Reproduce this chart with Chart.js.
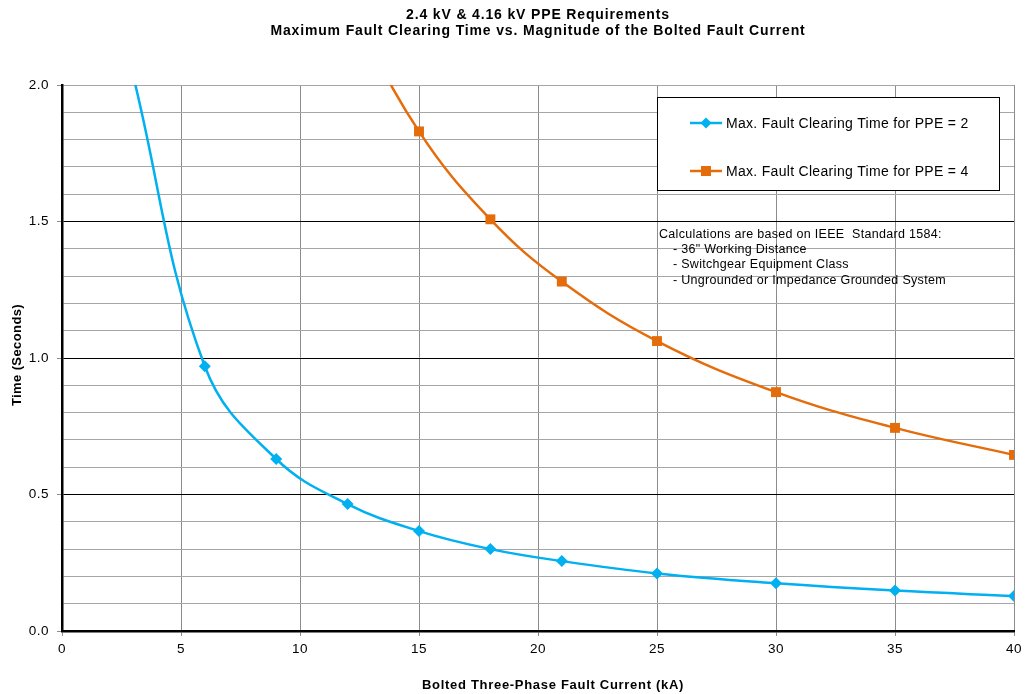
<!DOCTYPE html>
<html>
<head>
<meta charset="utf-8">
<script src="https://cdn.jsdelivr.net/npm/chart.js@4.4.1/dist/chart.umd.min.js"></script>
<style>
html,body{margin:0;padding:0;background:#fff;}
#wrap{width:1026px;height:694px;}
</style>
</head>
<body>
<div id="wrap"><canvas id="c" width="1026" height="694"></canvas></div>
<script>
// ---- data ----
const titleLines = ["2.4 kV & 4.16 kV PPE Requirements", "Maximum Fault Clearing Time vs. Magnitude of the Bolted Fault Current"];
const xTitle = "Bolted Three-Phase Fault Current (kA)";
const yTitle = "Time (Seconds)";
const ppe2Label = "Max. Fault Clearing Time for PPE = 2";
const ppe2Current = [3, 6, 9, 12, 15, 18, 21, 25, 30, 35, 40];
const ppe2Time    = [2.03, 0.97, 0.63, 0.465, 0.366, 0.300, 0.256, 0.211, 0.175, 0.148, 0.128];
const ppe4Label = "Max. Fault Clearing Time for PPE = 4";
const ppe4Current = [12, 15, 18, 21, 25, 30, 35, 40];
const ppe4Time    = [2.30, 1.83, 1.508, 1.28, 1.062, 0.875, 0.744, 0.645];
const noteHead = "Calculations are based on IEEE  Standard 1584:";
const noteItems = ["- 36\" Working Distance", "- Switchgear Equipment Class", "- Ungrounded or Impedance Grounded System"];
const xTickStep = 5;
const yMajorStep = 0.5;

const BLUE = '#00B0F0', ORANGE = '#E46C0A';
const FONT = "'Liberation Sans', Arial, sans-serif";

function pts(xs, ys){ return xs.map((x,i)=>({x:x, y:ys[i]})); }
function isMajor(v){ return Math.abs(v/yMajorStep - Math.round(v/yMajorStep)) < 1e-6; }

function txt(ctx, s, x, y, font, spacing, align){
  ctx.save();
  ctx.font = font;
  ctx.letterSpacing = spacing + 'px';
  ctx.fillStyle = '#000';
  ctx.textBaseline = 'middle';
  ctx.textAlign = align || 'left';
  ctx.fillText(s, x, y);
  ctx.restore();
}

const textPlugin = {
  id: 'textPlugin',
  beforeLayout(chart){ chart.ctx.letterSpacing = '0.5px'; },
  beforeDraw(chart){ chart.ctx.letterSpacing = '0.5px'; },
  afterDraw(chart){
    const ctx = chart.ctx;
    const ca = chart.chartArea;
    const cx = (ca.left + ca.right) / 2;
    // chart title
    txt(ctx, titleLines[0], cx, 15, "bold 14px " + FONT, 0.85, 'center');
    txt(ctx, titleLines[1], cx, 31, "bold 14px " + FONT, 0.85, 'center');
    // axis titles
    txt(ctx, xTitle, cx + 15, 685, "bold 13px " + FONT, 0.7, 'center');
    ctx.save();
    ctx.translate(17, (ca.top + ca.bottom) / 2 - 3);
    ctx.rotate(-Math.PI / 2);
    txt(ctx, yTitle, 0, 0, "bold 13px " + FONT, 0.4, 'center');
    ctx.restore();

    // legend box
    ctx.save();
    const bx = 657.5, by = 97.5, bw = 342, bh = 93;
    ctx.fillStyle = '#fff';
    ctx.fillRect(bx, by, bw, bh);
    ctx.strokeStyle = '#000';
    ctx.lineWidth = 1;
    ctx.strokeRect(bx, by, bw, bh);
    const rowsY = [123, 171];
    chart.data.datasets.forEach((ds, i) => {
      const y = rowsY[i];
      ctx.strokeStyle = ds.borderColor;
      ctx.lineWidth = 2.5;
      ctx.beginPath(); ctx.moveTo(690, y); ctx.lineTo(722, y); ctx.stroke();
      ctx.fillStyle = ds.backgroundColor;
      ctx.beginPath();
      if (ds.pointStyle === 'rectRot') {
        const r = 5.5;
        ctx.moveTo(706, y - r); ctx.lineTo(706 + r, y); ctx.lineTo(706, y + r); ctx.lineTo(706 - r, y); ctx.closePath();
      } else {
        ctx.rect(701, y - 5, 10, 10);
      }
      ctx.fill();
      txt(ctx, ds.label, 726, y + 1, "14px " + FONT, 0.3, 'left');
    });
    ctx.restore();
    // note text
    txt(ctx, noteHead, 659, 235, "12.5px " + FONT, 0.3, 'left');
    const noteY = [250, 265, 281];
    noteItems.forEach((t, i) => txt(ctx, t, 673, noteY[i], "12.5px " + FONT, 0.3, 'left'));
  }
};

new Chart(document.getElementById('c'), {
  type: 'line',
  data: {
    datasets: [
      {
        label: ppe2Label,
        data: pts(ppe2Current, ppe2Time),
        borderColor: BLUE, backgroundColor: BLUE,
        borderWidth: 2.5, pointStyle: 'rectRot', pointRadius: 6, pointBorderWidth: 0,
        tension: 0.4, clip: 0
      },
      {
        label: ppe4Label,
        data: pts(ppe4Current, ppe4Time),
        borderColor: ORANGE, backgroundColor: ORANGE,
        borderWidth: 2.5, pointStyle: 'rect', pointRadius: 7, pointBorderWidth: 0,
        tension: 0.4, clip: 0
      }
    ]
  },
  options: {
    responsive: false,
    animation: false,
    events: [],
    layout: { padding: { left: 28, right: 12, top: 85, bottom: 38 } },
    plugins: {
      legend: { display: false },
      tooltip: { enabled: false },
      title: { display: false }
    },
    scales: {
      x: {
        type: 'linear', min: 0, max: 40,
        afterFit: (s) => { s.height = 25; s.paddingRight = 0; s.paddingLeft = 0; },
        ticks: { stepSize: xTickStep, color: '#000', font: { family: FONT, size: 13.5 }, padding: 5 },
        grid: { color: '#8c8c8c', lineWidth: 1, tickLength: 5, tickColor: '#8c8c8c' },
        border: { color: '#000', width: 2.5 }
      },
      y: {
        type: 'linear', min: 0, max: 2,
        afterFit: (s) => { s.width = 34; },
        ticks: {
          stepSize: 0.1, autoSkip: false, color: '#000', font: { family: FONT, size: 13.5 }, padding: 8,
          callback: (v) => isMajor(v) ? v.toFixed(1) : ''
        },
        grid: {
          lineWidth: 1, tickLength: 5,
          color: (c) => (isMajor(c.tick.value) && c.tick.value < 1.99 && c.tick.value > 0.01) ? '#000' : '#a6a6a6',
          tickColor: (c) => isMajor(c.tick.value) ? '#8c8c8c' : 'rgba(0,0,0,0)'
        },
        border: { color: '#000', width: 2.5 }
      }
    }
  },
  plugins: [textPlugin]
});
</script>
</body>
</html>
